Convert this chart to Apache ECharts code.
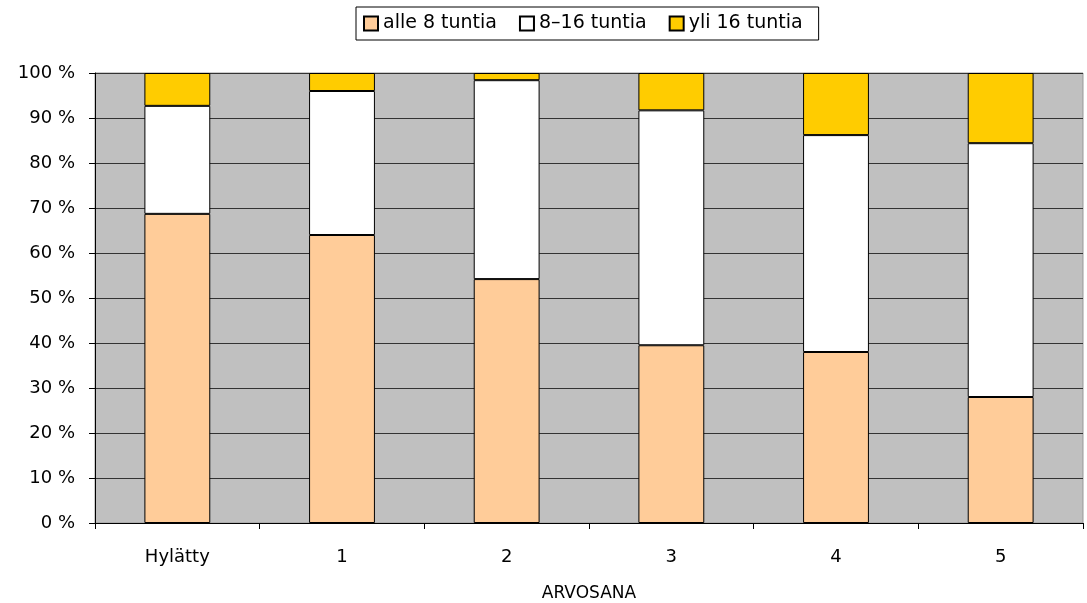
<!DOCTYPE html>
<html>
<head>
<meta charset="utf-8">
<script src="https://cdn.jsdelivr.net/npm/echarts@6/dist/echarts.min.js"></script>
<style>html,body{margin:0;padding:0;background:#fff}#c{width:1087px;height:603px}</style>
</head>
<body>
<div id="c"></div>
<script>
const categories = ['Hylätty', '1', '2', '3', '4', '5'];
const seriesNames = ['alle 8 tuntia', '8–16 tuntia', 'yli 16 tuntia'];
const alle8 = [68.7, 64.0, 54.2, 39.5, 38.0, 28.0];
const mid816 = [24.0, 32.0, 44.2, 52.2, 48.2, 56.4];
const yli16 = [7.3, 4.0, 1.6, 8.3, 13.8, 15.6];
const colors = ['#FFCC99', '#FFFFFF', '#FFCC00'];
const font = 'DejaVu Sans';

const chart = echarts.init(document.getElementById('c'));
const mk = (name, data, color) => ({
  name, type: 'bar', stack: 'all', data, barWidth: '40%',
  itemStyle: { color, borderColor: '#000', borderWidth: 1 },
  emphasis: { disabled: true }
});
chart.setOption({
  animation: false,
  textStyle: { fontFamily: font },
  legend: {
    top: 7, left: 356,
    borderColor: '#000', borderWidth: 1,
    padding: [7, 16, 7, 7],
    itemWidth: 14, itemHeight: 14, itemGap: 22,
    icon: 'rect',
    textStyle: { fontFamily: font, fontSize: 19, color: '#000' },
    data: seriesNames
  },
  grid: {
    left: 95, right: 4, top: 73, bottom: 80,
    outerBoundsMode: 'none', containLabel: false,
    show: true, backgroundColor: '#C0C0C0', borderColor: '#999', borderWidth: 1
  },
  xAxis: {
    type: 'category', data: categories,
    name: 'ARVOSANA', nameLocation: 'middle', nameGap: 62,
    nameTextStyle: { fontFamily: font, fontSize: 17, color: '#000' },
    axisLine: { lineStyle: { color: '#000', width: 1 } },
    axisTick: { show: true, length: 6, lineStyle: { color: '#000' } },
    axisLabel: { fontFamily: font, fontSize: 18, color: '#000', margin: 25 }
  },
  yAxis: {
    type: 'value', min: 0, max: 100, interval: 10,
    axisLine: { show: true, lineStyle: { color: '#000', width: 1 } },
    axisTick: { show: true, length: 6, lineStyle: { color: '#000' } },
    axisLabel: { fontFamily: font, fontSize: 18, color: '#000', margin: 20, formatter: '{value} %' },
    splitLine: { show: true, lineStyle: { color: '#333', width: 1 } }
  },
  series: [
    mk(seriesNames[0], alle8, colors[0]),
    mk(seriesNames[1], mid816, colors[1]),
    mk(seriesNames[2], yli16, colors[2])
  ]
});
</script>
</body>
</html>
